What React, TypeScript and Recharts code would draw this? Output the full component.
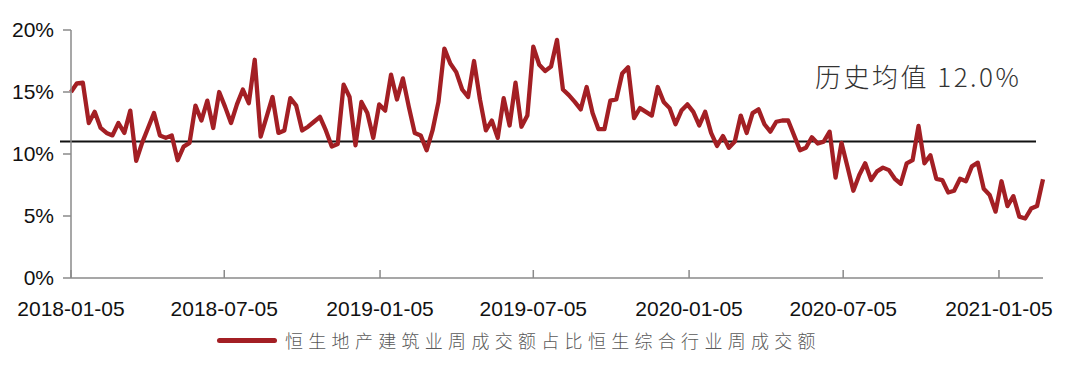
import React from "react";
import { Line, LineChart, ReferenceLine, XAxis, YAxis } from "recharts";

// weekly share (%) of HSI property & construction turnover in total market turnover
const SHARE_2018 = [
  15.0, 15.7, 15.75, 12.5, 13.4, 12.1, 11.7, 11.5, 12.5, 11.7, 13.5, 9.45, 10.9,
  12.1, 13.3, 11.5, 11.3, 11.5, 9.5, 10.6, 10.9, 13.9, 12.7, 14.3, 12.1, 15.0,
  13.8, 12.5, 14.0, 15.2, 14.1, 17.6, 11.4, 13.0, 14.6, 11.7, 11.9, 14.5, 13.9,
  11.9, 12.2, 12.6, 13.0, 11.9, 10.6, 10.8, 15.6, 14.6, 10.7, 14.2, 13.3, 11.3,
];
const SHARE_2019 = [
  14.0, 13.5, 16.4, 14.4, 16.1, 13.8, 11.7, 11.5, 10.3, 11.9, 14.2, 18.5, 17.3,
  16.6, 15.2, 14.6, 17.5, 14.4, 11.9, 12.7, 11.3, 14.5, 12.3, 15.75, 12.2, 13.1,
  18.65, 17.2, 16.7, 17.05, 19.2, 15.2, 14.75, 14.2, 13.6, 15.4, 13.3, 12.0, 12.0,
  14.3, 14.4, 16.5, 17.0, 12.9, 13.7, 13.4, 13.1, 15.4, 14.2, 13.7, 12.4, 13.5,
];
const SHARE_2020 = [
  14.0, 13.4, 12.3, 13.4, 11.7, 10.65, 11.45, 10.5, 11.0, 13.1, 11.7, 13.3, 13.6,
  12.4, 11.8, 12.6, 12.7, 12.7, 11.5, 10.3, 10.5, 11.35, 10.85, 11.0, 11.8, 8.1,
  10.9, 9.0, 7.04, 8.3, 9.25, 7.9, 8.6, 8.9, 8.7, 8.0, 7.6, 9.25, 9.5, 12.26,
  9.25, 9.9, 8.0, 7.9, 6.9, 7.04, 8.0, 7.8, 9.0, 9.3, 7.2, 6.7,
];
const SHARE_2021 = [5.35, 7.8, 5.8, 6.6, 4.95, 4.8, 5.6, 5.8, 7.96];

const FIRST_WEEK = "2018-01-05";
const X_TICKS = [
  "2018-01-05",
  "2018-07-05",
  "2019-01-05",
  "2019-07-05",
  "2020-01-05",
  "2020-07-05",
  "2021-01-05",
];
const Y_TICKS = [0, 5, 10, 15, 20];
const MEAN_LEVEL = 11.0; // where the line sits in the picture
const MEAN_LABEL = "历史均值 12.0%";
const SERIES_NAME = "恒生地产建筑业周成交额占比恒生综合行业周成交额";

const RED = "#A31F24";
const AXIS = "#8a8a8a";
const DAY = 86400000;

function toMs(s: string): number {
  const [y, m, d] = s.split("-").map(Number);
  return Date.UTC(y, m - 1, d);
}

function fmtDate(ms: number): string {
  const d = new Date(ms);
  const mm = String(d.getUTCMonth() + 1).padStart(2, "0");
  const dd = String(d.getUTCDate()).padStart(2, "0");
  return `${d.getUTCFullYear()}-${mm}-${dd}`;
}

const values = [...SHARE_2018, ...SHARE_2019, ...SHARE_2020, ...SHARE_2021];
const data = values.map((v, i) => ({ t: toMs(FIRST_WEEK) + i * 7 * DAY, share: v }));

function DateTick(props: any) {
  const { x, y, payload } = props;
  return (
    <g>
      <line x1={x} y1={y} x2={x} y2={y - 8} stroke={AXIS} strokeWidth={1.5} />
      <text
        x={x}
        y={y + 38}
        textAnchor="middle"
        fontSize={21}
        fill="#111"
        fontFamily="'Liberation Sans', Arial, sans-serif"
      >
        {fmtDate(payload.value)}
      </text>
    </g>
  );
}

function MeanLine(props: any) {
  const { x1, y1, x2, y2 } = props;
  return <line x1={x1 - 11} y1={y1} x2={x2 - 7} y2={y2} stroke="#111" strokeWidth={2} />;
}

export default function App() {
  return (
    <div
      style={{
        position: "relative",
        width: 1064,
        height: 362,
        fontFamily: "'Noto Sans CJK SC', 'Liberation Sans', sans-serif",
      }}
    >
      <LineChart
        width={1064}
        height={320}
        data={data}
        margin={{ top: 22, right: 29, bottom: 0, left: 0 }}
      >
        <XAxis
          type="number"
          dataKey="t"
          domain={["dataMin", "dataMax"]}
          ticks={X_TICKS.map(toMs)}
          tick={<DateTick />}
          tickSize={0}
          tickMargin={0}
          height={50}
          axisLine={{ stroke: AXIS, strokeWidth: 1.5 }}
          tickLine={false}
          interval={0}
        />
        <YAxis
          domain={[0, 20]}
          ticks={Y_TICKS}
          width={63}
          tickSize={8}
          tickMargin={9}
          tickFormatter={(v: number) => `${v}%`}
          axisLine={{ stroke: AXIS, strokeWidth: 1.5 }}
          tickLine={{ stroke: AXIS, strokeWidth: 1.5 }}
          tick={{ fontSize: 21, fill: "#111", fontFamily: "'Liberation Sans', Arial, sans-serif" }}
        />
        <ReferenceLine y={MEAN_LEVEL} shape={<MeanLine />} />
        <Line
          type="linear"
          dataKey="share"
          stroke={RED}
          strokeWidth={4.3}
          strokeLinejoin="round"
          dot={false}
          isAnimationActive={false}
        />
      </LineChart>

      <div
        style={{
          position: "absolute",
          left: 807,
          top: 52,
          fontSize: 26,
          letterSpacing: 2.5,
          fontWeight: 300,
          color: "#333",
          whiteSpace: "nowrap",
          lineHeight: "32px",
        }}
      >
        {MEAN_LABEL}
      </div>

      <div
        style={{
          position: "absolute",
          left: 209,
          top: 320,
          height: 24,
          display: "flex",
          alignItems: "center",
          whiteSpace: "nowrap",
        }}
      >
        <span
          style={{
            display: "inline-block",
            width: 60,
            height: 5,
            borderRadius: 3,
            background: RED,
            marginRight: 8,
          }}
        />
        <span style={{ fontSize: 18, letterSpacing: 5.3, color: "#595959", fontWeight: 300 }}>
          {SERIES_NAME}
        </span>
      </div>
    </div>
  );
}
